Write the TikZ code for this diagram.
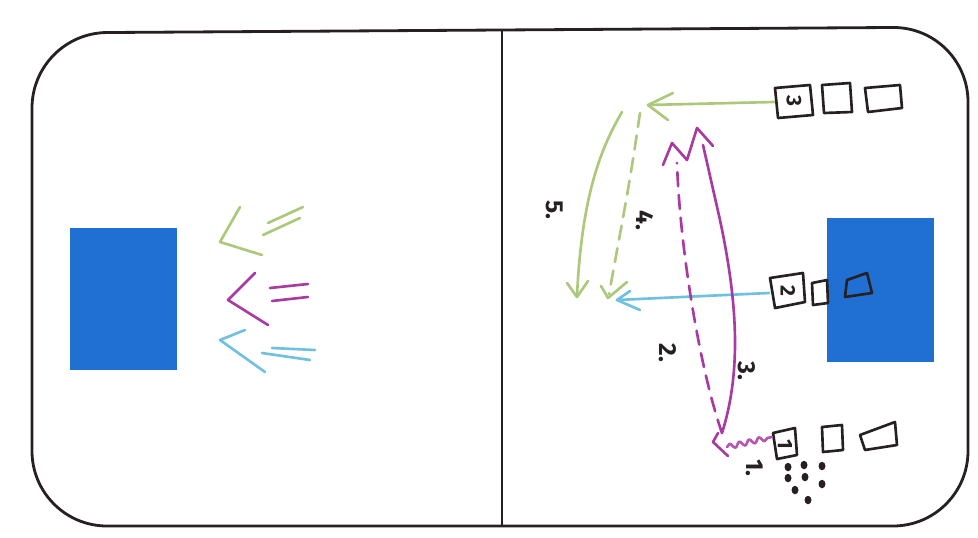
\documentclass[tikz,border=0pt]{standalone}
\usepackage{fontspec}
\setmainfont{Fira Sans}
\usetikzlibrary{decorations.pathmorphing}
\definecolor{mgreen}{RGB}{172,200,122}
\definecolor{mpink}{RGB}{168,58,162}
\definecolor{mcyan}{RGB}{112,192,224}
\definecolor{goalblue}{RGB}{32,112,212}
\definecolor{ink}{RGB}{38,32,32}
\begin{document}
\begin{tikzpicture}[x=0.02cm, y=-0.02cm, line cap=round, line join=round,
  marker/.style={line width=1.5pt},
  dashmark/.style={marker, dash pattern=on 8pt off 5pt},
  lbl/.style={font=\fontsize{14}{16}\selectfont\bfseries, text=ink, rotate=-90, inner sep=0pt},
  boxnum/.style={font=\fontsize{12}{14}\selectfont\bfseries, text=ink, rotate=-90, inner sep=0pt},
  crate/.style={draw=ink, line width=1.5pt},
  goal/.style={fill=goalblue, inner sep=0pt, minimum width=2.14cm}
]
\useasboundingbox (0,0) rectangle (978,538);
\fill[white] (0,0) rectangle (978,538);

% rink outline and centre line
\draw[line width=1.6pt, ink, rounded corners=1.5cm]
  (32,33) -- (968,27) -- (968,526) -- (32,526) -- cycle;
\draw[line width=1pt, ink] (502,30) -- (502,526);

% goals
\node[goal, minimum height=2.84cm] (goalL) at (123.5,299) {};
\node[goal, minimum height=2.88cm] (goalR) at (880.5,290) {};

% left half: three arrow symbols
\draw[marker, mgreen] (240,207) -- (220,242) -- (262,255);
\draw[marker, mgreen] (268,223) -- (303,207);
\draw[marker, mgreen] (263,235) -- (300,218);
\draw[marker, mpink] (255,273) -- (228,300) -- (268,325);
\draw[marker, mpink] (270,288) -- (308,284);
\draw[marker, mpink] (272,301) -- (308,297);
\draw[marker, mcyan] (245,330) -- (220,340) -- (265,372);
\draw[marker, mcyan] (272,348) -- (315,350);
\draw[marker, mcyan] (262,353) -- (310,360);

% right half: rows of crates
% top row
\draw[crate] (775,88) -- (810,85) -- (813,115) -- (778,118) -- cycle;
\node[boxnum] (c3) at (794,101) {3};
\draw[crate] (822,85) -- (850,83) -- (852,112) -- (824,113) -- cycle;
\draw[crate] (865,88) -- (900,85) -- (902,108) -- (868,112) -- cycle;
% middle row
\draw[crate] (770,278) -- (803,273) -- (805,302) -- (775,308) -- cycle;
\node[boxnum] (c2) at (788,291) {2};
\draw[crate] (812,283) -- (827,280) -- (828,303) -- (813,305) -- cycle;
\draw[crate] (847,280) -- (867,273) -- (872,293) -- (845,297) -- cycle;
% bottom row
\draw[crate] (773,433) -- (795,428) -- (797,455) -- (777,459) -- cycle;
\node[boxnum] (c1) at (785,444) {1};
\draw[crate] (822,427) -- (842,425) -- (843,450) -- (823,452) -- cycle;
\draw[crate] (860,435) -- (895,422) -- (897,445) -- (865,450) -- cycle;

% pucks
\foreach \p/\q in {788/467, 804/465, 822/466, 788/478, 805/477, 822/484, 795/490, 808/500}
  \fill[ink] (\p,\q) ellipse [x radius=0.07cm, y radius=0.085cm];

% connector end points
\coordinate (g3) at (774,102);
\coordinate (t3) at (648,105);
\coordinate (b2) at (769,293);
\coordinate (t2) at (617,300);
\coordinate (s1) at (722,433);
\coordinate (w1) at (772,437);

% green pass from crate 3
\draw[marker, mgreen] (g3) -- (t3);
\draw[marker, mgreen] (673,93) -- (t3) -- (668,120);
% cyan pass from crate 2
\draw[marker, mcyan] (b2) -- (t2);
\draw[marker, mcyan] (630,291) -- (t2) -- (640,310);

% route 5 (solid green)
\draw[marker, mgreen] (622,112) .. controls (603,145) and (582,190) .. (577,296);
\draw[marker, mgreen] (567,283) -- (577,297) -- (588,281);
% route 4 (dashed green)
\draw[dashmark, mgreen] (640,113) .. controls (630,180) .. (609,294);
\draw[marker, mgreen] (601,286) -- (608,298) -- (627,282);

% routes 2 (dashed) and 3 (solid) in magenta
\draw[dashmark, mpink] (s1) .. controls (700,370) and (680,250) .. (677,163);
\draw[marker, mpink] (s1) .. controls (742,370) and (737,300) .. (720,220) -- (703,145);
\draw[marker, mpink] (663,165) -- (672,143) -- (687,160) -- (697,128) -- (713,146);
\draw[marker, mpink] (718,433) -- (713,442) -- (728,456);
% wiggle to crate 1
\draw[marker, mpink!85, decorate, decoration={snake, amplitude=0.05cm, segment length=0.2cm}]
  (727,447) -- (w1);

% route labels
\node[lbl] (n5) at (555,210) {5.};
\node[lbl] (n4) at (645,220) {4.};
\node[lbl] (n2) at (668,353) {2.};
\node[lbl] (n3) at (747,371) {3.};
\node[lbl] (n1) at (755,468) {1.};
\end{tikzpicture}
\end{document}
